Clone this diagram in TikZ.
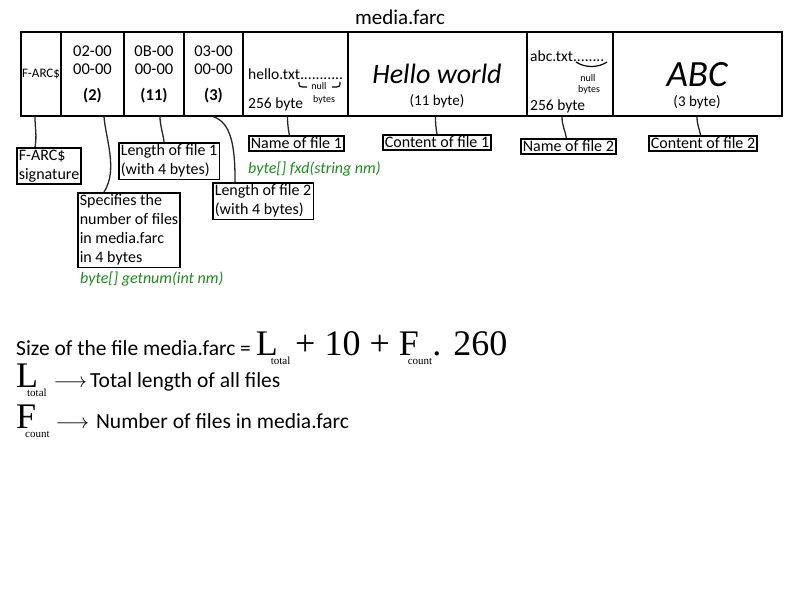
\documentclass[tikz,border=0pt]{standalone}
\usepackage{fontspec}
\setmainfont{Carlito}
\newfontfamily\tmsfont{Liberation Serif}
\usetikzlibrary{positioning}
\definecolor{farcGreen}{HTML}{1E8C1E}
\newcommand{\fsz}[2]{\fontsize{#1}{#2}\selectfont}
% big serif letter with a tiny subscript under it
\newcommand{\symsub}[3]{{\tmsfont\fsz{36}{36}#1}\kern#3\raisebox{-9pt}{\tmsfont\fsz{11}{11}#2}}

\begin{document}
\begin{tikzpicture}[x=1pt,y=-1pt,
    cell/.style={draw,line width=1.6pt,minimum height=84,inner sep=0pt,
                 align=center,font=\fsz{16.5}{18}},
    lbl/.style={draw,line width=1.6pt,inner sep=2pt,align=left,
                anchor=north west,font=\fsz{16}{19}},
    note/.style={anchor=north west,inner sep=0pt,text=farcGreen,
                 font=\fsz{16}{19}\itshape},
    wire/.style={line width=1.3pt,black!85}]

  \useasboundingbox (0,0) rectangle (800,600);

  \node[font=\fsz{21}{24}] (title) at (400,17) {media.farc};

  % the archive, cell by cell
  \node[cell,minimum width=40,font=\fsz{13}{14}] (sig) at (41,74) {F-ARC\$};
  \node[cell,minimum width=63] (cnt)  at (92.5,74)  {02-00\\00-00\\[8pt]\textbf{(2)}};
  \node[cell,minimum width=60] (len1) at (154,74)   {0B-00\\00-00\\[8pt]\textbf{(11)}};
  \node[cell,minimum width=59] (len2) at (213.5,74) {03-00\\00-00\\[8pt]\textbf{(3)}};
  \node[cell,minimum width=105] (nm1) at (295.5,74) {};
  \node[cell,minimum width=179] (ct1) at (437.5,74) {};
  \node[cell,minimum width=86]  (nm2) at (570,74)   {};
  \node[cell,minimum width=169] (ct2) at (697.5,74) {};

  \node[anchor=west,inner sep=0pt,font=\fsz{15.5}{18}] (nm1txt) at (248,74) {hello.txt...........};
  \node[inner sep=0pt,font=\fsz{10}{12}] (nm1null) at (319,86) {null};
  \node[inner sep=0pt,font=\fsz{10}{12}] (nm1bytes) at (324,100) {bytes};
  \node[anchor=west,inner sep=0pt,font=\fsz{15.5}{18}] (nm1size) at (248,104) {256 byte};
  \draw[line width=1.2pt] (299,82) .. controls (299,87) .. (307,87);
  \draw[line width=1.2pt] (332,87) .. controls (340,87) .. (340,82);

  \node[inner sep=0pt,font=\fsz{28}{32}\itshape] (ct1txt) at (437,74) {Hello world};
  \node[inner sep=0pt,font=\fsz{15}{18}] (ct1size) at (437,101) {(11 byte)};

  \node[anchor=west,inner sep=0pt,font=\fsz{15.5}{18}] (nm2txt) at (530,56) {abc.txt........};
  \node[inner sep=0pt,font=\fsz{10}{12}] (nm2null) at (588,78) {null};
  \node[inner sep=0pt,font=\fsz{10}{12}] (nm2bytes) at (589,90) {bytes};
  \node[anchor=west,inner sep=0pt,font=\fsz{15.5}{18}] (nm2size) at (530,106) {256 byte};
  \draw[line width=1.2pt] (576,62) .. controls (585,68) and (598,68) .. (607,62);

  \node[inner sep=0pt,font=\fsz{37}{40}\itshape] (ct2txt) at (697,75) {ABC};
  \node[inner sep=0pt,font=\fsz{15}{18}] (ct2size) at (697,102) {(3 byte)};

  % labels below
  \node[lbl] (sigLbl)  at (16,147)  {F-ARC\$\\signature};
  \node[lbl] (cntLbl)  at (77,192)  {Specifies the\\number of files\\in media.farc\\in 4 bytes};
  \node[lbl] (len1Lbl) at (118,142) {Length of file 1\\(with 4 bytes)};
  \node[lbl] (len2Lbl) at (212,182) {Length of file 2\\(with 4 bytes)};
  \node[lbl] (nm1Lbl)  at (248,135) {Name of file 1};
  \node[lbl] (ct1Lbl)  at (382,134) {Content of file 1};
  \node[lbl] (nm2Lbl)  at (520,138) {Name of file 2};
  \node[lbl] (ct2Lbl)  at (648,135) {Content of file 2};

  \node[note] (fxd)    at (248,162) {byte[] fxd(string nm)};
  \node[note] (getnum) at (80,272)  {byte[] getnum(int nm)};

  \draw[wire] ([xshift=-6]sig.south)  .. controls +(0,12) and +(2,-12) .. ([xshift=-14]sigLbl.north);
  \draw[wire] ([xshift=11.5]cnt.south) .. controls +(2,23) and +(14,-22) .. ([xshift=-25]cntLbl.north);
  \draw[wire] ([xshift=6]len1.south)  .. controls +(0,8) and +(-1,-8) .. ([xshift=-5]len1Lbl.north);
  \draw[wire] (len2.south) .. controls +(18,6) and +(0,-35) .. ([xshift=-28]len2Lbl.north);
  \draw[wire] ([xshift=-8]nm1.south)  .. controls +(0,8) and +(-1,-6) .. ([xshift=-7]nm1Lbl.north);
  \draw[wire] ([xshift=-2]ct1.south)  .. controls +(0,8) and +(-1,-6) .. (ct1Lbl.north);
  \draw[wire] ([xshift=-8]nm2.south)  .. controls +(0,9) and +(-1,-7) .. ([xshift=-2]nm2Lbl.north);
  \draw[wire] ([xshift=-0.5]ct2.south) .. controls +(0,8) and +(-1,-6) .. ([xshift=-2.5]ct2Lbl.north);

  % size formula
  \node[anchor=base west,inner sep=0pt,font=\fsz{21.5}{24}] (size) at (16,355)
    {Size of the file media.farc = \symsub{L}{total}{-7pt}\ {\tmsfont\fsz{36}{36}+ 10 +
     }\symsub{F}{count}{-11pt}{\tmsfont\fsz{36}{36}. 260}};
  \node[anchor=base west,inner sep=0pt,font=\fsz{21.5}{24}] (ltot) at (16,387)
    {\symsub{L}{total}{-11pt}\kern7pt$\longrightarrow$\kern3pt Total length of all files};
  \node[anchor=base west,inner sep=0pt,font=\fsz{21.5}{24}] (fcnt) at (16,428)
    {\symsub{F}{count}{-11pt}\kern6pt$\longrightarrow$\kern7pt Number of files in media.farc};
\end{tikzpicture}
\end{document}
